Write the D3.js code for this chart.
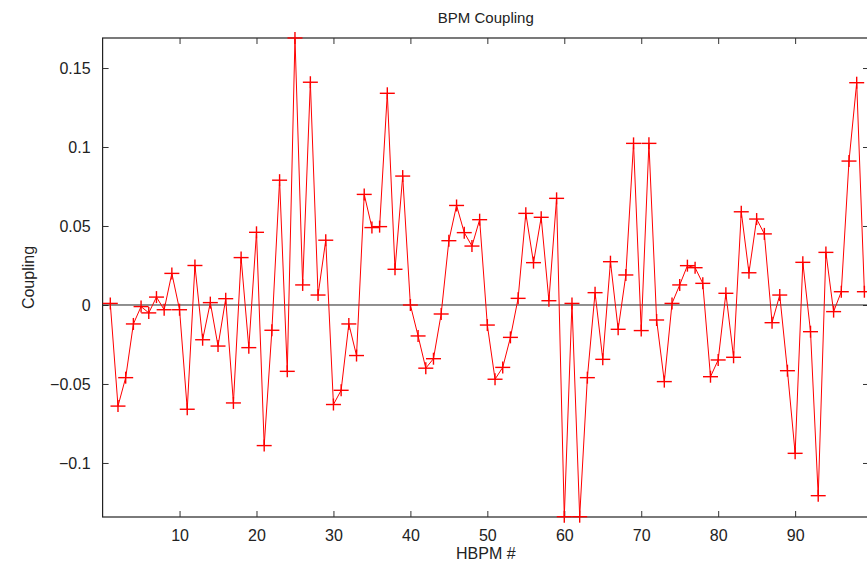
<!DOCTYPE html>
<html>
<head>
<meta charset="utf-8">
<script src="https://cdn.jsdelivr.net/npm/d3@7"></script>
<style>
  body { margin: 0; background: #fff; }
  text { font-family: "Liberation Sans", Arial, sans-serif; fill: #222; }
</style>
</head>
<body>
<svg width="867" height="566"></svg>
<script>
// BPM coupling, one value per HBPM
var bpm = d3.range(1, 100);
var coupling = [
  0.001, -0.064, -0.046, -0.012, -0.001, -0.005, 0.005, -0.003, 0.020, -0.003,
  -0.066, 0.025, -0.022, 0.0015, -0.026, 0.004, -0.062, 0.030, -0.027, 0.046,
  -0.089, -0.016, 0.079, -0.042, 0.169, 0.0127, 0.141, 0.0063, 0.041, -0.063,
  -0.054, -0.012, -0.032, 0.070, 0.049, 0.0496, 0.134, 0.0226, 0.0816, 0.0,
  -0.0196, -0.040, -0.034, -0.0057, 0.0407, 0.063, 0.0458, 0.0373, 0.054, -0.0127,
  -0.047, -0.0395, -0.0205, 0.0042, 0.058, 0.0268, 0.0555, 0.0027, 0.0675, -0.134,
  0.001, -0.134, -0.046, 0.0078, -0.0344, 0.0274, -0.0154, 0.019, 0.1023, -0.0162,
  0.1023, -0.0095, -0.0485, 0.001, 0.0127, 0.0249, 0.0236, 0.0137, -0.0454, -0.0348,
  0.0074, -0.0331, 0.059, 0.0204, 0.0544, 0.045, -0.0112, 0.0063, -0.0416, -0.0939,
  0.027, -0.0169, -0.1207, 0.0333, -0.0042, 0.0084, 0.0911, 0.1407, 0.0084
];
var xTicks = [10, 20, 30, 40, 50, 60, 70, 80, 90];
var yTicks = [-0.1, -0.05, 0, 0.05, 0.1, 0.15];

var pLeft = 102.6, pRight = 869, pTop = 38, pBottom = 517;

var svg = d3.select("svg");

var x = d3.scaleLinear().domain([0, 99.6]).range([pLeft, pRight]);
var y = d3.scaleLinear().domain([-0.1342, 0.169]).range([pBottom, pTop]);

var fmtY = function(d) {
  return String(d).replace("-", "\u2212");
};

// frame
svg.append("rect")
    .attr("x", pLeft).attr("y", pTop)
    .attr("width", pRight - pLeft).attr("height", pBottom - pTop)
    .attr("fill", "none").attr("stroke", "#222").attr("stroke-width", 1.2);

// axes with ticks pointing inwards
svg.append("g")
    .attr("transform", "translate(0," + pBottom + ")")
    .call(d3.axisBottom(x).tickValues(xTicks).tickSizeInner(-6).tickSizeOuter(0).tickPadding(12))
    .call(function(g) { g.select(".domain").remove(); })
    .selectAll("text").attr("font-size", 16).attr("dy", "0.75em");

svg.append("g")
    .attr("transform", "translate(0," + pTop + ")")
    .call(d3.axisTop(x).tickValues(xTicks).tickSizeInner(-6).tickSizeOuter(0).tickFormat(""))
    .call(function(g) { g.select(".domain").remove(); });

svg.append("g")
    .attr("transform", "translate(" + pLeft + ",0)")
    .call(d3.axisLeft(y).tickValues(yTicks).tickSizeInner(-6).tickSizeOuter(0).tickPadding(12).tickFormat(fmtY))
    .call(function(g) { g.select(".domain").remove(); })
    .selectAll("text").attr("font-size", 16);

svg.append("g")
    .attr("transform", "translate(" + pRight + ",0)")
    .call(d3.axisRight(y).tickValues(yTicks).tickSizeInner(-6).tickSizeOuter(0).tickFormat(""))
    .call(function(g) { g.select(".domain").remove(); });

svg.selectAll(".tick line").attr("stroke", "#333");

// zero line
svg.append("line")
    .attr("x1", pLeft).attr("x2", pRight)
    .attr("y1", y(0)).attr("y2", y(0))
    .attr("stroke", "#222").attr("stroke-width", 1);

// data line
var line = d3.line()
    .x(function(d, i) { return x(bpm[i]); })
    .y(function(d) { return y(d); });

svg.append("path")
    .datum(coupling)
    .attr("d", line)
    .attr("fill", "none")
    .attr("stroke", "#ff0000")
    .attr("stroke-width", 1);

// plus markers
var marks = svg.append("g").attr("stroke", "#ff0000").attr("stroke-width", 1.4);
coupling.forEach(function(d, i) {
  var cx = x(bpm[i]), cy = y(d);
  marks.append("line").attr("x1", cx - 7.5).attr("x2", cx + 7.5).attr("y1", cy).attr("y2", cy);
  marks.append("line").attr("x1", cx).attr("x2", cx).attr("y1", cy - 6).attr("y2", cy + 6);
});

// labels
svg.append("text")
    .attr("x", (pLeft + pRight) / 2).attr("y", 23)
    .attr("text-anchor", "middle").attr("font-size", 15)
    .text("BPM Coupling");

svg.append("text")
    .attr("x", (pLeft + pRight) / 2).attr("y", 559)
    .attr("text-anchor", "middle").attr("font-size", 16)
    .text("HBPM #");

svg.append("text")
    .attr("transform", "translate(34," + ((pTop + pBottom) / 2) + ") rotate(-90)")
    .attr("text-anchor", "middle").attr("font-size", 16)
    .text("Coupling");
</script>
</body>
</html>
